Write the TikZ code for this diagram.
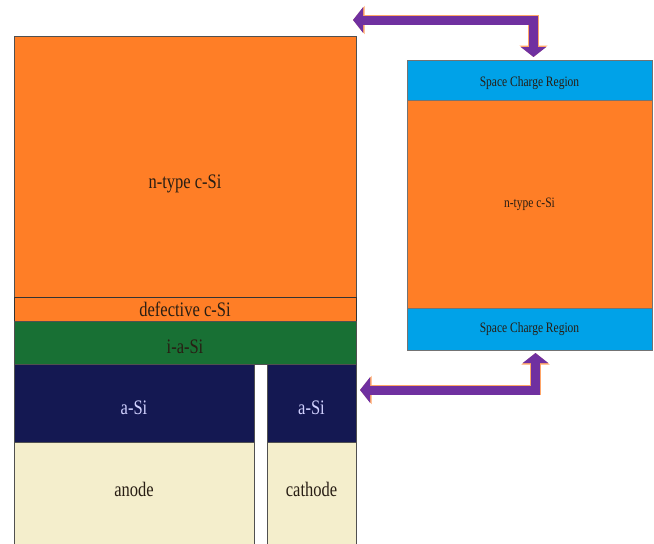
\documentclass[tikz,border=0pt]{standalone}
\usepackage{fontspec}
\setmainfont{Liberation Serif}
\usetikzlibrary{arrows.meta}
\definecolor{orng}{RGB}{255,126,38}
\definecolor{skyb}{RGB}{0,162,232}
\definecolor{grn}{RGB}{24,112,52}
\definecolor{navy}{RGB}{20,24,82}
\definecolor{cream}{RGB}{244,238,204}
\definecolor{purp}{RGB}{112,48,160}
\definecolor{edge}{RGB}{80,80,80}
\definecolor{txt}{RGB}{40,30,20}
\newcommand\vstr[1]{\scalebox{1}[1.25]{#1}}
\tikzset{
  layer/.style={draw=edge, line width=0.8pt, anchor=north west, inner sep=0pt, outer sep=0pt},
  rlayer/.style={layer, draw=edge!80},
  ltext/.style={inner sep=0pt, font=\fontsize{16.5}{18}\selectfont, text=txt},
  rtext/.style={inner sep=0pt, font=\fontsize{11.5}{13}\selectfont, text=txt},
  purparrow/.style={line width=9pt, purp, line join=miter,
    {Triangle[width=25pt,length=10pt]}-{Triangle[width=25pt,length=10pt]},
    preaction={draw=orng!70, line width=10.5pt, line join=miter, {Triangle[width=27.5pt,length=11.5pt]}-{Triangle[width=27.5pt,length=11.5pt]}}}
}
\begin{document}
\begin{tikzpicture}[x=1pt,y=-1pt]
\useasboundingbox (0,0) rectangle (654,544);
% left stack
\node[layer, fill=orng, minimum width=342pt, minimum height=261pt] (lnt) at (14,36) {};
\node[layer, fill=orng, draw=black!80, minimum width=342pt, minimum height=24pt] (def) at (14,297) {};
\node[layer, fill=grn, minimum width=342pt, minimum height=43pt] (ias) at (14,321) {};
\node[layer, fill=navy, minimum width=240pt, minimum height=78pt] (lasi) at (14,364) {};
\node[layer, fill=navy, minimum width=89pt, minimum height=78pt] (rasi) at (267,364) {};
\node[layer, fill=cream, minimum width=240pt, minimum height=104pt] (anode) at (14,442) {};
\node[layer, fill=cream, minimum width=89pt, minimum height=104pt] (cathode) at (267,442) {};
\node[ltext] (tlnt) at ([shift={(0,17)}]lnt.center) {\vstr{n-type c-Si}};
\node[ltext] (tdef) at ([shift={(0,0)}]def.center) {\vstr{defective c-Si}};
\node[ltext] (tias) at ([shift={(0,4)}]ias.center) {\vstr{i-a-Si}};
\node[ltext, text=white!82!blue] (tlasi) at ([shift={(0,5)}]lasi.center) {\vstr{a-Si}};
\node[ltext, text=white!82!blue] (trasi) at ([shift={(0,5)}]rasi.center) {\vstr{a-Si}};
\node[ltext] (tanode) at ([shift={(0,-5)}]anode.center) {\vstr{anode}};
\node[ltext] (tcath) at ([shift={(0,-5)}]cathode.center) {\vstr{cathode}};
% right stack
\node[rlayer, fill=skyb, minimum width=245pt, minimum height=40pt] (scrt) at (407,60) {};
\node[rlayer, fill=orng, minimum width=245pt, minimum height=208pt] (rnt) at (407,100) {};
\node[rlayer, fill=skyb, minimum width=245pt, minimum height=42pt] (scrb) at (407,308) {};
\node[rtext] (tscrt) at ([shift={(0,3)}]scrt.center) {\vstr{Space Charge Region}};
\node[rtext] (trnt) at ([shift={(0,0)}]rnt.center) {\vstr{n-type c-Si}};
\node[rtext] (tscrb) at ([shift={(0,0)}]scrb.center) {\vstr{Space Charge Region}};
% arrows
\draw[purparrow] ([shift={(-3,-16)}]lnt.north east) -| ([shift={(4,-3)}]scrt.north);
\draw[purparrow] ([shift={(6,3)}]scrb.south) |- ([shift={(4,-13)}]rasi.east);
\end{tikzpicture}
\end{document}
